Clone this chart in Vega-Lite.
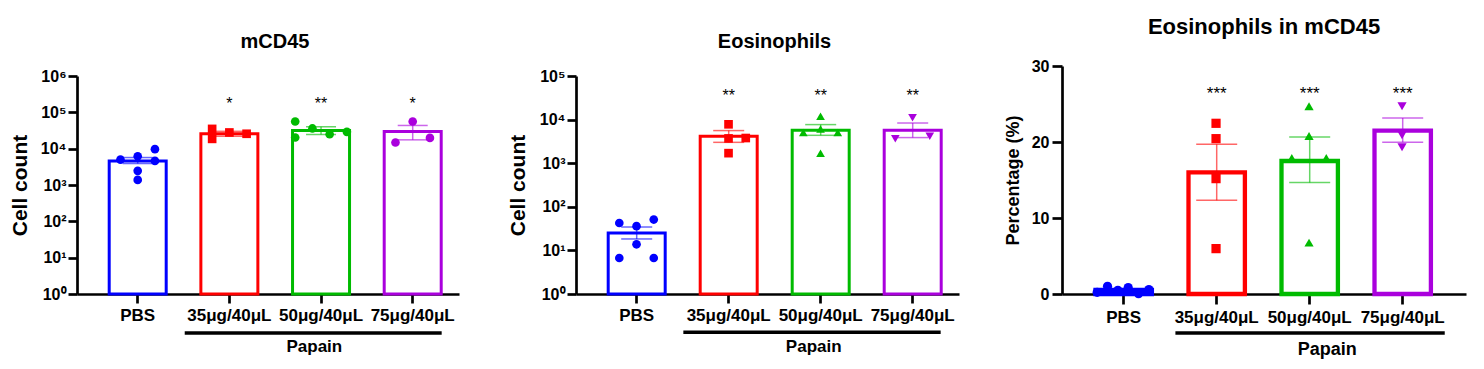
{
  "$schema": "https://vega.github.io/schema/vega-lite/v6.json",
  "background": "white",
  "padding": {"left": 9, "top": 16, "right": 5, "bottom": 5},
  "bounds": "flush",
  "spacing": 103,
  "resolve": {"scale": {"color": "independent", "shape": "independent", "stroke": "independent"}},
  "config": {
    "view": {"stroke": null},
    "font": "Liberation Sans, Arial, sans-serif",
    "axis": {"grid": false, "domainColor": "black", "tickColor": "black", "labelColor": "black", "titleColor": "black", "labelFontWeight": "bold", "titleFontWeight": "bold", "domainWidth": 2.7, "tickWidth": 2.7, "labelFont": "Liberation Sans, Arial, sans-serif", "titleFont": "Liberation Sans, Arial, sans-serif"},
    "title": {"color": "black", "fontWeight": "bold", "font": "Liberation Sans, Arial, sans-serif"}
  },
  "datasets": {
    "groups": [{"label": "Papain"}],
    "p1pts": [
      {"g": "PBS", "v": 5000, "j": -1}, {"g": "PBS", "v": 6200, "j": 0}, {"g": "PBS", "v": 9700, "j": 1},
      {"g": "PBS", "v": 4600, "j": 1}, {"g": "PBS", "v": 2450, "j": 0}, {"g": "PBS", "v": 1380, "j": 0},
      {"g": "35μg/40μL", "v": 35000, "j": -1}, {"g": "35μg/40μL", "v": 18600, "j": -1}, {"g": "35μg/40μL", "v": 27900, "j": 0}, {"g": "35μg/40μL", "v": 25700, "j": 1},
      {"g": "50μg/40μL", "v": 56000, "j": -1.5}, {"g": "50μg/40μL", "v": 20300, "j": -1.5}, {"g": "50μg/40μL", "v": 36000, "j": -0.5}, {"g": "50μg/40μL", "v": 25000, "j": 0.5}, {"g": "50μg/40μL", "v": 29000, "j": 1.5},
      {"g": "75μg/40μL", "v": 56000, "j": 0}, {"g": "75μg/40μL", "v": 14800, "j": -1}, {"g": "75μg/40μL", "v": 19800, "j": 1}
    ],
    "p1sum": [
      {"g": "PBS", "mean": 4600, "lo": 3900, "hi": 5700, "sig": ""},
      {"g": "35μg/40μL", "mean": 25600, "lo": 22000, "hi": 30000, "sig": "*"},
      {"g": "50μg/40μL", "mean": 31600, "lo": 24500, "hi": 39900, "sig": "**"},
      {"g": "75μg/40μL", "mean": 29500, "lo": 17500, "hi": 43500, "sig": "*"}
    ],
    "p2pts": [
      {"g": "PBS", "v": 42.5, "j": -1}, {"g": "PBS", "v": 36, "j": 0}, {"g": "PBS", "v": 51, "j": 1},
      {"g": "PBS", "v": 13.8, "j": 0}, {"g": "PBS", "v": 6.7, "j": -1}, {"g": "PBS", "v": 6.7, "j": 1},
      {"g": "35μg/40μL", "v": 7800, "j": 0}, {"g": "35μg/40μL", "v": 3700, "j": 0}, {"g": "35μg/40μL", "v": 3780, "j": 1}, {"g": "35μg/40μL", "v": 1700, "j": 0},
      {"g": "50μg/40μL", "v": 11900, "j": 0}, {"g": "50μg/40μL", "v": 5030, "j": -1}, {"g": "50μg/40μL", "v": 6090, "j": 0}, {"g": "50μg/40μL", "v": 5030, "j": 1}, {"g": "50μg/40μL", "v": 1690, "j": 0},
      {"g": "75μg/40μL", "v": 11000, "j": 0}, {"g": "75μg/40μL", "v": 3660, "j": -1}, {"g": "75μg/40μL", "v": 4140, "j": 1}
    ],
    "p2sum": [
      {"g": "PBS", "mean": 25, "lo": 18.3, "hi": 34.4, "sig": ""},
      {"g": "35μg/40μL", "mean": 4140, "lo": 3010, "hi": 5600, "sig": "**"},
      {"g": "50μg/40μL", "mean": 5690, "lo": 4360, "hi": 7680, "sig": "**"},
      {"g": "75μg/40μL", "mean": 5690, "lo": 3870, "hi": 8350, "sig": "**"}
    ],
    "p3pts": [
      {"g": "PBS", "v": 0.22, "j": -1.5}, {"g": "PBS", "v": 1.01, "j": -0.9}, {"g": "PBS", "v": 0.49, "j": -0.3},
      {"g": "PBS", "v": 0.84, "j": 0.3}, {"g": "PBS", "v": 0.05, "j": 0.9}, {"g": "PBS", "v": 0.58, "j": 1.5},
      {"g": "35μg/40μL", "v": 22.46, "j": 0}, {"g": "35μg/40μL", "v": 20.44, "j": 0}, {"g": "35μg/40μL", "v": 15.18, "j": 0}, {"g": "35μg/40μL", "v": 5.97, "j": 0},
      {"g": "50μg/40μL", "v": 24.7, "j": 0}, {"g": "50μg/40μL", "v": 20.8, "j": 0}, {"g": "50μg/40μL", "v": 17.9, "j": -1}, {"g": "50μg/40μL", "v": 17.9, "j": 1}, {"g": "50μg/40μL", "v": 6.76, "j": 0},
      {"g": "75μg/40μL", "v": 24.7, "j": 0}, {"g": "75μg/40μL", "v": 20.9, "j": 0}, {"g": "75μg/40μL", "v": 19.3, "j": 0}
    ],
    "p3sum": [
      {"g": "PBS", "mean": 0.53, "lo": 0.38, "hi": 0.68, "sig": ""},
      {"g": "35μg/40μL", "mean": 16.0, "lo": 12.33, "hi": 19.7, "sig": "***"},
      {"g": "50μg/40μL", "mean": 17.5, "lo": 14.66, "hi": 20.66, "sig": "***"},
      {"g": "75μg/40μL", "mean": 21.5, "lo": 19.96, "hi": 23.16, "sig": "***"}
    ]
  },
  "hconcat": [
    {
      "width": 396, "height": 228,
      "title": {"text": "mCD45", "fontSize": 20, "offset": -2, "baseline": "alphabetic", "frame": "group"},
      "layer": [
        {
          "data": {"name": "p1sum"},
          "mark": {"type": "bar", "width": 57, "fill": "white", "strokeWidth": 3, "strokeJoin": "miter"},
          "encoding": {
            "x": {"field": "g", "type": "nominal", "sort": null,
                  "scale": {"domain": ["PBS", "35μg/40μL", "50μg/40μL", "75μg/40μL"], "range": [0, 382], "paddingInner": 0, "paddingOuter": 0.0836, "align": 0.97},
                  "axis": {"title": null, "labelAngle": 0, "labelFontSize": 17, "labelPadding": 4, "tickSize": 9}},
            "y": {"field": "mean", "type": "quantitative",
                  "scale": {"type": "log", "domain": [1, 1000000], "range": [228, 10]},
                  "axis": {"title": "Cell count", "titleFontSize": 21, "titleX": -51, "titleBaseline": "alphabetic", "values": [1, 10, 100, 1000, 10000, 100000, 1000000], "labelExpr": "'10' + ['⁰','¹','²','³','⁴','⁵','⁶'][round(log(datum.value)/LN10)]", "labelFontSize": 16, "labelPadding": 2, "tickSize": 9}},
            "y2": {"datum": 1},
            "stroke": {"field": "g", "type": "nominal", "scale": {"domain": ["PBS", "35μg/40μL", "50μg/40μL", "75μg/40μL"], "range": ["#0000FF", "#FF0000", "#00BB00", "#AA00DD"]}, "legend": null}
          }
        },
        {
          "data": {"name": "p1sum"},
          "mark": {"type": "rule", "strokeWidth": 1.5, "opacity": 0.6},
          "encoding": {
            "x": {"field": "g", "type": "nominal", "sort": null},
            "y": {"field": "lo", "type": "quantitative"},
            "y2": {"field": "hi"},
            "color": {"field": "g", "type": "nominal", "scale": {"domain": ["PBS", "35μg/40μL", "50μg/40μL", "75μg/40μL"], "range": ["#0000FF", "#FF0000", "#00BB00", "#AA00DD"]}, "legend": null}
          }
        },
        {
          "data": {"name": "p1sum"},
          "mark": {"type": "tick", "size": 30, "thickness": 1.5, "opacity": 0.6},
          "encoding": {"x": {"field": "g", "type": "nominal", "sort": null}, "y": {"field": "lo", "type": "quantitative"}, "color": {"field": "g", "type": "nominal", "legend": null}}
        },
        {
          "data": {"name": "p1sum"},
          "mark": {"type": "tick", "size": 30, "thickness": 1.5, "opacity": 0.6},
          "encoding": {"x": {"field": "g", "type": "nominal", "sort": null}, "y": {"field": "hi", "type": "quantitative"}, "color": {"field": "g", "type": "nominal", "legend": null}}
        },
        {
          "data": {"name": "p1pts"},
          "mark": {"type": "point", "filled": true, "size": 75, "opacity": 1},
          "encoding": {
            "x": {"field": "g", "type": "nominal", "sort": null},
            "xOffset": {"field": "j", "type": "quantitative", "scale": {"domain": [-2.634, 2.634]}},
            "y": {"field": "v", "type": "quantitative"},
            "color": {"field": "g", "type": "nominal", "legend": null},
            "shape": {"field": "g", "type": "nominal", "scale": {"domain": ["PBS", "35μg/40μL", "50μg/40μL", "75μg/40μL"], "range": ["circle", "square", "circle", "circle"]}, "legend": null}
          }
        },
        {
          "data": {"name": "p1sum"},
          "mark": {"type": "text", "fontSize": 16, "baseline": "alphabetic", "color": "black"},
          "encoding": {"x": {"field": "g", "type": "nominal", "sort": null}, "y": {"datum": 121000}, "text": {"field": "sig"}}
        },
        {
          "data": {"name": "groups"},
          "mark": {"type": "rule", "strokeWidth": 3.5, "color": "black"},
          "encoding": {
            "x": {"datum": "35μg/40μL", "bandPosition": 0.013},
            "x2": {"datum": "75μg/40μL", "bandPosition": 0.816},
            "y": {"datum": 0.0843}
          }
        },
        {
          "data": {"name": "groups"},
          "mark": {"type": "text", "fontSize": 17, "fontWeight": "bold", "baseline": "alphabetic", "color": "black"},
          "encoding": {
            "x": {"datum": "50μg/40μL", "bandPosition": 0.427},
            "y": {"datum": 0.0252},
            "text": {"field": "label"}
          }
        }
      ]
    },
    {
      "width": 383, "height": 228,
      "title": {"text": "Eosinophils", "fontSize": 20, "offset": -2, "baseline": "alphabetic", "frame": "group", "dx": 7},
      "layer": [
        {
          "data": {"name": "p2sum"},
          "mark": {"type": "bar", "width": 57, "fill": "white", "strokeWidth": 3, "strokeJoin": "miter"},
          "encoding": {
            "x": {"field": "g", "type": "nominal", "sort": null,
                  "scale": {"domain": ["PBS", "35μg/40μL", "50μg/40μL", "75μg/40μL"], "range": [0, 383], "paddingInner": 0, "paddingOuter": 0.0815, "align": 0.98},
                  "axis": {"title": null, "labelAngle": 0, "labelFontSize": 17, "labelPadding": 4, "tickSize": 9}},
            "y": {"field": "mean", "type": "quantitative",
                  "scale": {"type": "log", "domain": [1, 100000], "range": [228, 10]},
                  "axis": {"title": "Cell count", "titleFontSize": 21, "titleX": -51.7, "titleBaseline": "alphabetic", "values": [1, 10, 100, 1000, 10000, 100000], "labelExpr": "'10' + ['⁰','¹','²','³','⁴','⁵','⁶'][round(log(datum.value)/LN10)]", "labelFontSize": 16, "labelPadding": 2, "tickSize": 9}},
            "y2": {"datum": 1},
            "stroke": {"field": "g", "type": "nominal", "scale": {"domain": ["PBS", "35μg/40μL", "50μg/40μL", "75μg/40μL"], "range": ["#0000FF", "#FF0000", "#00BB00", "#AA00DD"]}, "legend": null}
          }
        },
        {
          "data": {"name": "p2sum"},
          "mark": {"type": "rule", "strokeWidth": 1.5, "opacity": 0.6},
          "encoding": {
            "x": {"field": "g", "type": "nominal", "sort": null},
            "y": {"field": "lo", "type": "quantitative"},
            "y2": {"field": "hi"},
            "color": {"field": "g", "type": "nominal", "scale": {"domain": ["PBS", "35μg/40μL", "50μg/40μL", "75μg/40μL"], "range": ["#0000FF", "#FF0000", "#00BB00", "#AA00DD"]}, "legend": null}
          }
        },
        {
          "data": {"name": "p2sum"},
          "mark": {"type": "tick", "size": 31, "thickness": 1.5, "opacity": 0.6},
          "encoding": {"x": {"field": "g", "type": "nominal", "sort": null}, "y": {"field": "lo", "type": "quantitative"}, "color": {"field": "g", "type": "nominal", "legend": null}}
        },
        {
          "data": {"name": "p2sum"},
          "mark": {"type": "tick", "size": 31, "thickness": 1.5, "opacity": 0.6},
          "encoding": {"x": {"field": "g", "type": "nominal", "sort": null}, "y": {"field": "hi", "type": "quantitative"}, "color": {"field": "g", "type": "nominal", "legend": null}}
        },
        {
          "data": {"name": "p2pts"},
          "mark": {"type": "point", "filled": true, "size": 75, "opacity": 1},
          "encoding": {
            "x": {"field": "g", "type": "nominal", "sort": null},
            "xOffset": {"field": "j", "type": "quantitative", "scale": {"domain": [-2.66, 2.66]}},
            "y": {"field": "v", "type": "quantitative"},
            "color": {"field": "g", "type": "nominal", "legend": null},
            "shape": {"field": "g", "type": "nominal", "scale": {"domain": ["PBS", "35μg/40μL", "50μg/40μL", "75μg/40μL"], "range": ["circle", "square", "triangle-up", "triangle-down"]}, "legend": null}
          }
        },
        {
          "data": {"name": "p2sum"},
          "mark": {"type": "text", "fontSize": 16, "baseline": "alphabetic", "color": "black"},
          "encoding": {"x": {"field": "g", "type": "nominal", "sort": null}, "y": {"datum": 26400}, "text": {"field": "sig"}}
        },
        {
          "data": {"name": "groups"},
          "mark": {"type": "rule", "strokeWidth": 3.5, "color": "black"},
          "encoding": {
            "x": {"datum": "35μg/40μL", "bandPosition": 0.007},
            "x2": {"datum": "75μg/40μL", "bandPosition": 0.804},
            "y": {"datum": 0.132}
          }
        },
        {
          "data": {"name": "groups"},
          "mark": {"type": "text", "fontSize": 17, "fontWeight": "bold", "baseline": "alphabetic", "color": "black"},
          "encoding": {
            "x": {"datum": "50μg/40μL", "bandPosition": 0.424},
            "y": {"datum": 0.0468},
            "text": {"field": "label"}
          }
        }
      ]
    },
    {
      "width": 404, "height": 228,
      "title": {"text": "Eosinophils in mCD45", "fontSize": 22, "offset": 1.7, "baseline": "alphabetic", "frame": "group"},
      "layer": [
        {
          "data": {"name": "p3sum"},
          "mark": {"type": "bar", "width": 56.4, "fill": "white", "strokeWidth": 4.3, "strokeJoin": "miter"},
          "encoding": {
            "x": {"field": "g", "type": "nominal", "sort": null,
                  "scale": {"domain": ["PBS", "35μg/40μL", "50μg/40μL", "75μg/40μL"], "range": [0, 404], "paddingInner": 0, "paddingOuter": 0.172, "align": 0.475},
                  "axis": {"title": null, "labelAngle": 0, "labelFontSize": 17, "labelPadding": 5, "tickSize": 10}},
            "y": {"field": "mean", "type": "quantitative",
                  "scale": {"domain": [0, 30], "range": [228, 0], "nice": false, "zero": true},
                  "axis": {"title": "Percentage (%)", "titleFontSize": 18, "titleX": -43.3, "titleBaseline": "alphabetic", "values": [0, 10, 20, 30], "labelFontSize": 16, "labelPadding": 3, "tickSize": 10}},
            "y2": {"datum": 0},
            "stroke": {"field": "g", "type": "nominal", "scale": {"domain": ["PBS", "35μg/40μL", "50μg/40μL", "75μg/40μL"], "range": ["#0000FF", "#FF0000", "#00BB00", "#AA00DD"]}, "legend": null}
          }
        },
        {
          "data": {"name": "p3sum"},
          "mark": {"type": "rule", "strokeWidth": 1.5, "opacity": 0.6},
          "encoding": {
            "x": {"field": "g", "type": "nominal", "sort": null},
            "y": {"field": "lo", "type": "quantitative"},
            "y2": {"field": "hi"},
            "color": {"field": "g", "type": "nominal", "scale": {"domain": ["PBS", "35μg/40μL", "50μg/40μL", "75μg/40μL"], "range": ["#0000FF", "#FF0000", "#00BB00", "#AA00DD"]}, "legend": null}
          }
        },
        {
          "data": {"name": "p3sum"},
          "mark": {"type": "tick", "size": 41, "thickness": 1.5, "opacity": 0.6},
          "encoding": {"x": {"field": "g", "type": "nominal", "sort": null}, "y": {"field": "lo", "type": "quantitative"}, "color": {"field": "g", "type": "nominal", "legend": null}}
        },
        {
          "data": {"name": "p3sum"},
          "mark": {"type": "tick", "size": 41, "thickness": 1.5, "opacity": 0.6},
          "encoding": {"x": {"field": "g", "type": "nominal", "sort": null}, "y": {"field": "hi", "type": "quantitative"}, "color": {"field": "g", "type": "nominal", "legend": null}}
        },
        {
          "data": {"name": "p3pts"},
          "mark": {"type": "point", "filled": true, "size": 85, "opacity": 1},
          "encoding": {
            "x": {"field": "g", "type": "nominal", "sort": null},
            "xOffset": {"field": "j", "type": "quantitative", "scale": {"domain": [-2.58, 2.58]}},
            "y": {"field": "v", "type": "quantitative"},
            "color": {"field": "g", "type": "nominal", "legend": null},
            "shape": {"field": "g", "type": "nominal", "scale": {"domain": ["PBS", "35μg/40μL", "50μg/40μL", "75μg/40μL"], "range": ["circle", "square", "triangle-up", "triangle-down"]}, "legend": null}
          }
        },
        {
          "data": {"name": "p3sum"},
          "mark": {"type": "text", "fontSize": 17, "baseline": "alphabetic", "color": "black"},
          "encoding": {"x": {"field": "g", "type": "nominal", "sort": null}, "y": {"datum": 25.6}, "text": {"field": "sig"}}
        },
        {
          "data": {"name": "groups"},
          "mark": {"type": "rule", "strokeWidth": 3.5, "color": "black"},
          "encoding": {
            "x": {"datum": "35μg/40μL", "bandPosition": 0.056},
            "x2": {"datum": "75μg/40μL", "bandPosition": 0.952},
            "y": {"datum": -5.13}
          }
        },
        {
          "data": {"name": "groups"},
          "mark": {"type": "text", "fontSize": 18, "fontWeight": "bold", "baseline": "alphabetic", "color": "black"},
          "encoding": {
            "x": {"datum": "50μg/40μL", "bandPosition": 0.688},
            "y": {"datum": -8.09},
            "text": {"field": "label"}
          }
        }
      ]
    }
  ]
}
